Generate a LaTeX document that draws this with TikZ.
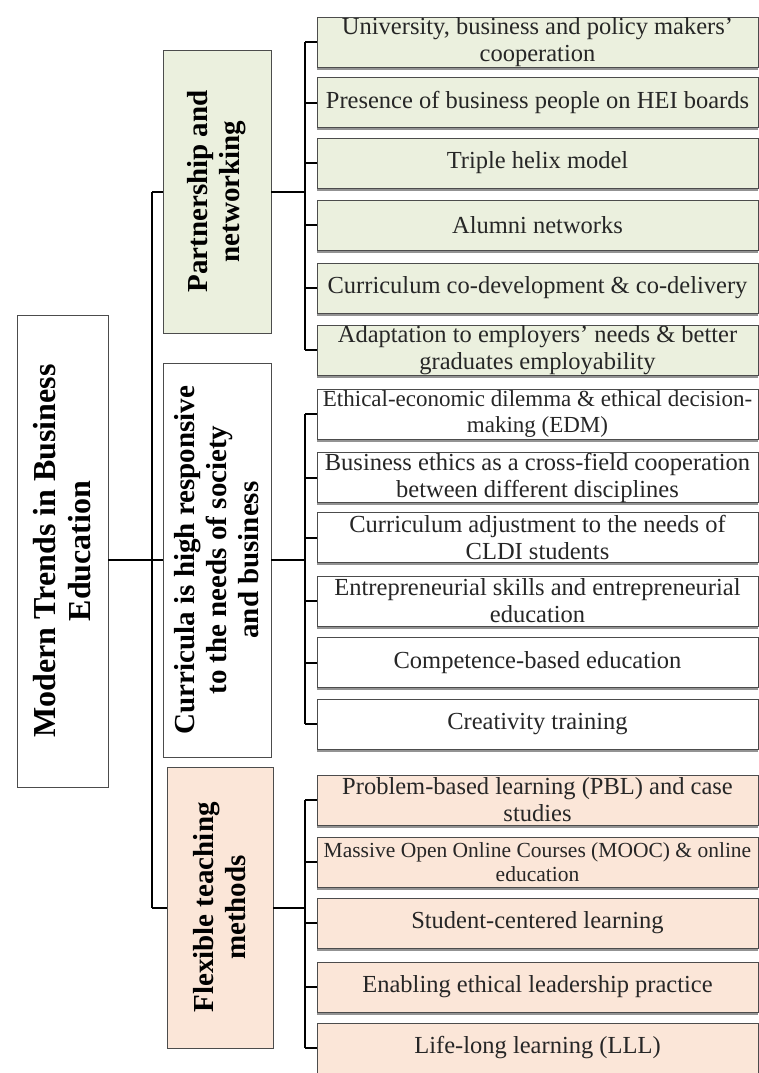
\documentclass[tikz,border=0pt]{standalone}
\usepackage{fontspec}
\setmainfont{Liberation Serif}
\usetikzlibrary{shadows}
\definecolor{olivebox}{HTML}{EBF0DE}
\definecolor{peachbox}{HTML}{FBE6D8}
\tikzset{
  leaf/.style={draw=black!70, line width=0.8pt, minimum width=441pt, minimum height=50pt,
    inner sep=0pt, align=center, text=black!85, font=\fontsize{24.5}{27}\selectfont,
    drop shadow={shadow xshift=0pt, shadow yshift=-2.5pt, fill=black!70, opacity=0.6}},
  branch/.style={draw=black!70, line width=0.8pt, rotate=90, align=center, inner sep=0pt,
    font=\fontsize{29}{32}\selectfont\bfseries},
  link/.style={line width=2pt},
}
\begin{document}
\begin{tikzpicture}[x=1pt, y=-1pt]
  \useasboundingbox[fill=white] (0,0) rectangle (759,1073);

  % Root
  \node[branch, fill=white, minimum width=472pt, minimum height=91pt,
    font=\fontsize{32}{35}\selectfont\bfseries] (root) at (62.5,551)
    {Modern Trends in Business\\Education};

  % Branches
  \node[branch, fill=olivebox, minimum width=283pt, minimum height=108pt] (part) at (217,191.5)
    {Partnership and\\networking};
  \node[branch, fill=white, minimum width=394pt, minimum height=108pt] (curr) at (217,560)
    {Curricula is high responsive\\to the needs of society\\and business};
  \node[branch, fill=peachbox, minimum width=281pt, minimum height=106pt] (flex) at (220,907.5)
    {Flexible teaching\\methods};

  % Partnership and networking
  \node[leaf, fill=olivebox] (p1) at (537.5,42.5) {University, business and policy makers'\\cooperation};
  \node[leaf, fill=olivebox] (p2) at (537.5,102.5) {Presence of business people on HEI boards};
  \node[leaf, fill=olivebox] (p3) at (537.5,163) {Triple helix model};
  \node[leaf, fill=olivebox] (p4) at (537.5,225) {Alumni networks};
  \node[leaf, fill=olivebox] (p5) at (537.5,288) {Curriculum co-development \& co-delivery};
  \node[leaf, fill=olivebox] (p6) at (537.5,350) {Adaptation to employers' needs \& better\\graduates employability};

  % Curricula
  \node[leaf, fill=white, font=\fontsize{23}{26}\selectfont] (c1) at (537.5,414) {Ethical-economic dilemma \& ethical decision-\\making (EDM)};
  \node[leaf, fill=white] (c2) at (537.5,477.5) {Business ethics as a cross-field cooperation\\between different disciplines};
  \node[leaf, fill=white] (c3) at (537.5,537.5) {Curriculum adjustment to the needs of\\CLDI students};
  \node[leaf, fill=white] (c4) at (537.5,601) {Entrepreneurial skills and entrepreneurial\\education};
  \node[leaf, fill=white] (c5) at (537.5,662.5) {Competence-based education};
  \node[leaf, fill=white] (c6) at (537.5,724) {Creativity training};

  % Flexible teaching methods
  \node[leaf, fill=peachbox] (f1) at (537.5,800) {Problem-based learning (PBL) and case\\studies};
  \node[leaf, fill=peachbox, font=\fontsize{21.5}{24}\selectfont] (f2) at (537.5,862) {Massive Open Online Courses (MOOC) \& online\\education};
  \node[leaf, fill=peachbox] (f3) at (537.5,923) {Student-centered learning};
  \node[leaf, fill=peachbox] (f4) at (537.5,987) {Enabling ethical leadership practice};
  \node[leaf, fill=peachbox] (f5) at (537.5,1048) {Life-long learning (LLL)};

  % Spine
  \coordinate (spine) at (152,560);
  \draw[link] (root.south |- curr) -- (curr.north);
  \draw[link] (spine |- part) -- (spine |- flex);
  \draw[link] (spine |- part) -- (part.north);
  \draw[link] (spine |- flex) -- (flex.north);

  % Brackets
  \coordinate (pbar) at (305,191.5);
  \coordinate (cbar) at (305,560);
  \coordinate (fbar) at (305,907.5);
  \draw[link] (part.south) -- (pbar);
  \draw[link] (curr.south) -- (cbar);
  \draw[link] (flex.south) -- (fbar);
  \draw[link] (pbar |- p1) -- (pbar |- p6);
  \draw[link] (cbar |- c1) -- (cbar |- c6);
  \draw[link] (fbar |- f1) -- (fbar |- f5);
  \draw[link] (pbar |- p1) -- (p1.west) (pbar |- p2) -- (p2.west) (pbar |- p3) -- (p3.west)
    (pbar |- p4) -- (p4.west) (pbar |- p5) -- (p5.west) (pbar |- p6) -- (p6.west);
  \draw[link] (cbar |- c1) -- (c1.west) (cbar |- c2) -- (c2.west) (cbar |- c3) -- (c3.west)
    (cbar |- c4) -- (c4.west) (cbar |- c5) -- (c5.west) (cbar |- c6) -- (c6.west);
  \draw[link] (fbar |- f1) -- (f1.west) (fbar |- f2) -- (f2.west) (fbar |- f3) -- (f3.west)
    (fbar |- f4) -- (f4.west) (fbar |- f5) -- (f5.west);
\end{tikzpicture}
\end{document}
